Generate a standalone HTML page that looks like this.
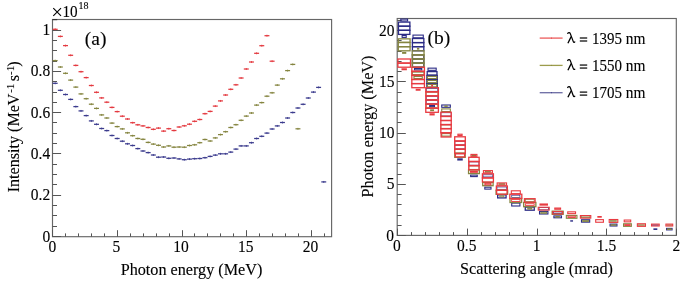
<!DOCTYPE html>
<html><head><meta charset="utf-8"><style>
html,body{margin:0;padding:0;background:#fff;}
svg{display:block;filter:blur(0.25px);}
text{font-family:"Liberation Serif", serif;fill:#000;stroke:#000;stroke-width:0.12px;}
</style></head><body>
<svg width="685" height="283" viewBox="0 0 685 283">
<rect width="685" height="283" fill="#fff"/>
<rect x="52.5" y="19.5" width="279.10" height="217.20" fill="none" stroke="#666" stroke-width="1.15"/>
<line x1="52.5" y1="19.6" x2="57.2" y2="19.6" stroke="#333" stroke-width="1.2"/>
<line x1="52.50" y1="236.7" x2="52.50" y2="230.2" stroke="#555" stroke-width="1"/>
<line x1="65.50" y1="236.7" x2="65.50" y2="233.39999999999998" stroke="#555" stroke-width="1"/>
<line x1="78.50" y1="236.7" x2="78.50" y2="233.39999999999998" stroke="#555" stroke-width="1"/>
<line x1="91.50" y1="236.7" x2="91.50" y2="233.39999999999998" stroke="#555" stroke-width="1"/>
<line x1="104.50" y1="236.7" x2="104.50" y2="233.39999999999998" stroke="#555" stroke-width="1"/>
<line x1="117.50" y1="236.7" x2="117.50" y2="230.2" stroke="#555" stroke-width="1"/>
<line x1="130.50" y1="236.7" x2="130.50" y2="233.39999999999998" stroke="#555" stroke-width="1"/>
<line x1="143.50" y1="236.7" x2="143.50" y2="233.39999999999998" stroke="#555" stroke-width="1"/>
<line x1="156.50" y1="236.7" x2="156.50" y2="233.39999999999998" stroke="#555" stroke-width="1"/>
<line x1="169.50" y1="236.7" x2="169.50" y2="233.39999999999998" stroke="#555" stroke-width="1"/>
<line x1="182.50" y1="236.7" x2="182.50" y2="230.2" stroke="#555" stroke-width="1"/>
<line x1="194.50" y1="236.7" x2="194.50" y2="233.39999999999998" stroke="#555" stroke-width="1"/>
<line x1="207.50" y1="236.7" x2="207.50" y2="233.39999999999998" stroke="#555" stroke-width="1"/>
<line x1="220.50" y1="236.7" x2="220.50" y2="233.39999999999998" stroke="#555" stroke-width="1"/>
<line x1="233.50" y1="236.7" x2="233.50" y2="233.39999999999998" stroke="#555" stroke-width="1"/>
<line x1="246.50" y1="236.7" x2="246.50" y2="230.2" stroke="#555" stroke-width="1"/>
<line x1="259.50" y1="236.7" x2="259.50" y2="233.39999999999998" stroke="#555" stroke-width="1"/>
<line x1="272.50" y1="236.7" x2="272.50" y2="233.39999999999998" stroke="#555" stroke-width="1"/>
<line x1="285.50" y1="236.7" x2="285.50" y2="233.39999999999998" stroke="#555" stroke-width="1"/>
<line x1="298.50" y1="236.7" x2="298.50" y2="233.39999999999998" stroke="#555" stroke-width="1"/>
<line x1="311.50" y1="236.7" x2="311.50" y2="230.2" stroke="#555" stroke-width="1"/>
<line x1="324.50" y1="236.7" x2="324.50" y2="233.39999999999998" stroke="#555" stroke-width="1"/>
<line x1="52.5" y1="236.50" x2="61.1" y2="236.50" stroke="#555" stroke-width="1"/>
<line x1="52.5" y1="226.50" x2="57.0" y2="226.50" stroke="#555" stroke-width="1"/>
<line x1="52.5" y1="215.50" x2="57.0" y2="215.50" stroke="#555" stroke-width="1"/>
<line x1="52.5" y1="205.50" x2="57.0" y2="205.50" stroke="#555" stroke-width="1"/>
<line x1="52.5" y1="195.50" x2="61.1" y2="195.50" stroke="#555" stroke-width="1"/>
<line x1="52.5" y1="184.50" x2="57.0" y2="184.50" stroke="#555" stroke-width="1"/>
<line x1="52.5" y1="174.50" x2="57.0" y2="174.50" stroke="#555" stroke-width="1"/>
<line x1="52.5" y1="164.50" x2="57.0" y2="164.50" stroke="#555" stroke-width="1"/>
<line x1="52.5" y1="153.50" x2="61.1" y2="153.50" stroke="#555" stroke-width="1"/>
<line x1="52.5" y1="143.50" x2="57.0" y2="143.50" stroke="#555" stroke-width="1"/>
<line x1="52.5" y1="133.50" x2="57.0" y2="133.50" stroke="#555" stroke-width="1"/>
<line x1="52.5" y1="122.50" x2="57.0" y2="122.50" stroke="#555" stroke-width="1"/>
<line x1="52.5" y1="112.50" x2="61.1" y2="112.50" stroke="#555" stroke-width="1"/>
<line x1="52.5" y1="102.50" x2="57.0" y2="102.50" stroke="#555" stroke-width="1"/>
<line x1="52.5" y1="92.50" x2="57.0" y2="92.50" stroke="#555" stroke-width="1"/>
<line x1="52.5" y1="81.50" x2="57.0" y2="81.50" stroke="#555" stroke-width="1"/>
<line x1="52.5" y1="71.50" x2="61.1" y2="71.50" stroke="#555" stroke-width="1"/>
<line x1="52.5" y1="61.50" x2="57.0" y2="61.50" stroke="#555" stroke-width="1"/>
<line x1="52.5" y1="50.50" x2="57.0" y2="50.50" stroke="#555" stroke-width="1"/>
<line x1="52.5" y1="40.50" x2="57.0" y2="40.50" stroke="#555" stroke-width="1"/>
<line x1="52.5" y1="30.50" x2="61.1" y2="30.50" stroke="#555" stroke-width="1"/>
<rect x="52.70" y="28.68" width="4.96" height="1.25" fill="#e43a40"/>
<rect x="54.73" y="28.35" width="0.9" height="1.9" fill="#e43a40"/>
<rect x="57.87" y="35.78" width="4.96" height="1.25" fill="#e43a40"/>
<rect x="59.90" y="35.45" width="0.9" height="1.9" fill="#e43a40"/>
<rect x="63.03" y="44.98" width="4.96" height="1.25" fill="#e43a40"/>
<rect x="65.06" y="44.65" width="0.9" height="1.9" fill="#e43a40"/>
<rect x="68.19" y="54.68" width="4.96" height="1.25" fill="#e43a40"/>
<rect x="70.23" y="54.35" width="0.9" height="1.9" fill="#e43a40"/>
<rect x="73.36" y="64.78" width="4.96" height="1.25" fill="#e43a40"/>
<rect x="75.39" y="64.45" width="0.9" height="1.9" fill="#e43a40"/>
<rect x="78.52" y="71.08" width="4.96" height="1.25" fill="#e43a40"/>
<rect x="80.56" y="70.75" width="0.9" height="1.9" fill="#e43a40"/>
<rect x="83.69" y="76.98" width="4.96" height="1.25" fill="#e43a40"/>
<rect x="85.72" y="76.65" width="0.9" height="1.9" fill="#e43a40"/>
<rect x="88.85" y="84.88" width="4.96" height="1.25" fill="#e43a40"/>
<rect x="90.89" y="84.55" width="0.9" height="1.9" fill="#e43a40"/>
<rect x="94.02" y="91.68" width="4.96" height="1.25" fill="#e43a40"/>
<rect x="96.05" y="91.35" width="0.9" height="1.9" fill="#e43a40"/>
<rect x="99.19" y="97.28" width="4.96" height="1.25" fill="#e43a40"/>
<rect x="101.22" y="96.95" width="0.9" height="1.9" fill="#e43a40"/>
<rect x="104.35" y="101.58" width="4.96" height="1.25" fill="#e43a40"/>
<rect x="106.38" y="101.25" width="0.9" height="1.9" fill="#e43a40"/>
<rect x="109.51" y="106.78" width="4.96" height="1.25" fill="#e43a40"/>
<rect x="111.55" y="106.45" width="0.9" height="1.9" fill="#e43a40"/>
<rect x="114.68" y="110.98" width="4.96" height="1.25" fill="#e43a40"/>
<rect x="116.71" y="110.65" width="0.9" height="1.9" fill="#e43a40"/>
<rect x="119.84" y="115.58" width="4.96" height="1.25" fill="#e43a40"/>
<rect x="121.88" y="115.25" width="0.9" height="1.9" fill="#e43a40"/>
<rect x="125.01" y="118.38" width="4.96" height="1.25" fill="#e43a40"/>
<rect x="127.04" y="118.05" width="0.9" height="1.9" fill="#e43a40"/>
<rect x="130.17" y="122.08" width="4.96" height="1.25" fill="#e43a40"/>
<rect x="132.21" y="121.75" width="0.9" height="1.9" fill="#e43a40"/>
<rect x="135.34" y="124.18" width="4.96" height="1.25" fill="#e43a40"/>
<rect x="137.37" y="123.85" width="0.9" height="1.9" fill="#e43a40"/>
<rect x="140.50" y="125.28" width="4.96" height="1.25" fill="#e43a40"/>
<rect x="142.54" y="124.95" width="0.9" height="1.9" fill="#e43a40"/>
<rect x="145.67" y="126.88" width="4.96" height="1.25" fill="#e43a40"/>
<rect x="147.70" y="126.55" width="0.9" height="1.9" fill="#e43a40"/>
<rect x="150.84" y="128.68" width="4.96" height="1.25" fill="#e43a40"/>
<rect x="152.87" y="128.35" width="0.9" height="1.9" fill="#e43a40"/>
<rect x="156.00" y="127.48" width="4.96" height="1.25" fill="#e43a40"/>
<rect x="158.03" y="127.15" width="0.9" height="1.9" fill="#e43a40"/>
<rect x="161.16" y="130.48" width="4.96" height="1.25" fill="#e43a40"/>
<rect x="163.20" y="130.15" width="0.9" height="1.9" fill="#e43a40"/>
<rect x="166.33" y="128.08" width="4.96" height="1.25" fill="#e43a40"/>
<rect x="168.36" y="127.75" width="0.9" height="1.9" fill="#e43a40"/>
<rect x="171.50" y="129.88" width="4.96" height="1.25" fill="#e43a40"/>
<rect x="173.53" y="129.55" width="0.9" height="1.9" fill="#e43a40"/>
<rect x="176.66" y="126.38" width="4.96" height="1.25" fill="#e43a40"/>
<rect x="178.69" y="126.05" width="0.9" height="1.9" fill="#e43a40"/>
<rect x="181.82" y="125.18" width="4.96" height="1.25" fill="#e43a40"/>
<rect x="183.86" y="124.85" width="0.9" height="1.9" fill="#e43a40"/>
<rect x="186.99" y="123.58" width="4.96" height="1.25" fill="#e43a40"/>
<rect x="189.02" y="123.25" width="0.9" height="1.9" fill="#e43a40"/>
<rect x="192.16" y="120.68" width="4.96" height="1.25" fill="#e43a40"/>
<rect x="194.19" y="120.35" width="0.9" height="1.9" fill="#e43a40"/>
<rect x="197.32" y="118.88" width="4.96" height="1.25" fill="#e43a40"/>
<rect x="199.35" y="118.55" width="0.9" height="1.9" fill="#e43a40"/>
<rect x="202.48" y="113.08" width="4.96" height="1.25" fill="#e43a40"/>
<rect x="204.52" y="112.75" width="0.9" height="1.9" fill="#e43a40"/>
<rect x="207.65" y="110.78" width="4.96" height="1.25" fill="#e43a40"/>
<rect x="209.68" y="110.45" width="0.9" height="1.9" fill="#e43a40"/>
<rect x="212.81" y="105.48" width="4.96" height="1.25" fill="#e43a40"/>
<rect x="214.85" y="105.15" width="0.9" height="1.9" fill="#e43a40"/>
<rect x="217.98" y="100.28" width="4.96" height="1.25" fill="#e43a40"/>
<rect x="220.01" y="99.95" width="0.9" height="1.9" fill="#e43a40"/>
<rect x="223.14" y="94.38" width="4.96" height="1.25" fill="#e43a40"/>
<rect x="225.18" y="94.05" width="0.9" height="1.9" fill="#e43a40"/>
<rect x="228.31" y="88.68" width="4.96" height="1.25" fill="#e43a40"/>
<rect x="230.34" y="88.35" width="0.9" height="1.9" fill="#e43a40"/>
<rect x="233.47" y="84.18" width="4.96" height="1.25" fill="#e43a40"/>
<rect x="235.51" y="83.85" width="0.9" height="1.9" fill="#e43a40"/>
<rect x="238.64" y="77.38" width="4.96" height="1.25" fill="#e43a40"/>
<rect x="240.67" y="77.05" width="0.9" height="1.9" fill="#e43a40"/>
<rect x="243.80" y="68.38" width="4.96" height="1.25" fill="#e43a40"/>
<rect x="245.84" y="68.05" width="0.9" height="1.9" fill="#e43a40"/>
<rect x="248.97" y="61.38" width="4.96" height="1.25" fill="#e43a40"/>
<rect x="251.00" y="61.05" width="0.9" height="1.9" fill="#e43a40"/>
<rect x="254.13" y="52.68" width="4.96" height="1.25" fill="#e43a40"/>
<rect x="256.17" y="52.35" width="0.9" height="1.9" fill="#e43a40"/>
<rect x="259.30" y="45.08" width="4.96" height="1.25" fill="#e43a40"/>
<rect x="261.33" y="44.75" width="0.9" height="1.9" fill="#e43a40"/>
<rect x="264.47" y="35.08" width="4.96" height="1.25" fill="#e43a40"/>
<rect x="266.50" y="34.75" width="0.9" height="1.9" fill="#e43a40"/>
<rect x="269.63" y="60.58" width="4.96" height="1.25" fill="#e43a40"/>
<rect x="271.66" y="60.25" width="0.9" height="1.9" fill="#e43a40"/>
<rect x="52.70" y="59.98" width="4.96" height="1.25" fill="#858540"/>
<rect x="54.73" y="59.65" width="0.9" height="1.9" fill="#858540"/>
<rect x="57.87" y="66.38" width="4.96" height="1.25" fill="#858540"/>
<rect x="59.90" y="66.05" width="0.9" height="1.9" fill="#858540"/>
<rect x="63.03" y="72.68" width="4.96" height="1.25" fill="#858540"/>
<rect x="65.06" y="72.35" width="0.9" height="1.9" fill="#858540"/>
<rect x="68.19" y="79.48" width="4.96" height="1.25" fill="#858540"/>
<rect x="70.23" y="79.15" width="0.9" height="1.9" fill="#858540"/>
<rect x="73.36" y="86.48" width="4.96" height="1.25" fill="#858540"/>
<rect x="75.39" y="86.15" width="0.9" height="1.9" fill="#858540"/>
<rect x="78.52" y="93.28" width="4.96" height="1.25" fill="#858540"/>
<rect x="80.56" y="92.95" width="0.9" height="1.9" fill="#858540"/>
<rect x="83.69" y="98.08" width="4.96" height="1.25" fill="#858540"/>
<rect x="85.72" y="97.75" width="0.9" height="1.9" fill="#858540"/>
<rect x="88.85" y="103.58" width="4.96" height="1.25" fill="#858540"/>
<rect x="90.89" y="103.25" width="0.9" height="1.9" fill="#858540"/>
<rect x="94.02" y="107.78" width="4.96" height="1.25" fill="#858540"/>
<rect x="96.05" y="107.45" width="0.9" height="1.9" fill="#858540"/>
<rect x="99.19" y="114.28" width="4.96" height="1.25" fill="#858540"/>
<rect x="101.22" y="113.95" width="0.9" height="1.9" fill="#858540"/>
<rect x="104.35" y="117.38" width="4.96" height="1.25" fill="#858540"/>
<rect x="106.38" y="117.05" width="0.9" height="1.9" fill="#858540"/>
<rect x="109.51" y="122.48" width="4.96" height="1.25" fill="#858540"/>
<rect x="111.55" y="122.15" width="0.9" height="1.9" fill="#858540"/>
<rect x="114.68" y="125.98" width="4.96" height="1.25" fill="#858540"/>
<rect x="116.71" y="125.65" width="0.9" height="1.9" fill="#858540"/>
<rect x="119.84" y="128.28" width="4.96" height="1.25" fill="#858540"/>
<rect x="121.88" y="127.95" width="0.9" height="1.9" fill="#858540"/>
<rect x="125.01" y="132.18" width="4.96" height="1.25" fill="#858540"/>
<rect x="127.04" y="131.85" width="0.9" height="1.9" fill="#858540"/>
<rect x="130.17" y="135.08" width="4.96" height="1.25" fill="#858540"/>
<rect x="132.21" y="134.75" width="0.9" height="1.9" fill="#858540"/>
<rect x="135.34" y="137.88" width="4.96" height="1.25" fill="#858540"/>
<rect x="137.37" y="137.55" width="0.9" height="1.9" fill="#858540"/>
<rect x="140.50" y="138.68" width="4.96" height="1.25" fill="#858540"/>
<rect x="142.54" y="138.35" width="0.9" height="1.9" fill="#858540"/>
<rect x="145.67" y="141.78" width="4.96" height="1.25" fill="#858540"/>
<rect x="147.70" y="141.45" width="0.9" height="1.9" fill="#858540"/>
<rect x="150.84" y="143.48" width="4.96" height="1.25" fill="#858540"/>
<rect x="152.87" y="143.15" width="0.9" height="1.9" fill="#858540"/>
<rect x="156.00" y="144.68" width="4.96" height="1.25" fill="#858540"/>
<rect x="158.03" y="144.35" width="0.9" height="1.9" fill="#858540"/>
<rect x="161.16" y="146.38" width="4.96" height="1.25" fill="#858540"/>
<rect x="163.20" y="146.05" width="0.9" height="1.9" fill="#858540"/>
<rect x="166.33" y="145.28" width="4.96" height="1.25" fill="#858540"/>
<rect x="168.36" y="144.95" width="0.9" height="1.9" fill="#858540"/>
<rect x="171.50" y="146.58" width="4.96" height="1.25" fill="#858540"/>
<rect x="173.53" y="146.25" width="0.9" height="1.9" fill="#858540"/>
<rect x="176.66" y="146.38" width="4.96" height="1.25" fill="#858540"/>
<rect x="178.69" y="146.05" width="0.9" height="1.9" fill="#858540"/>
<rect x="181.82" y="146.58" width="4.96" height="1.25" fill="#858540"/>
<rect x="183.86" y="146.25" width="0.9" height="1.9" fill="#858540"/>
<rect x="186.99" y="144.88" width="4.96" height="1.25" fill="#858540"/>
<rect x="189.02" y="144.55" width="0.9" height="1.9" fill="#858540"/>
<rect x="192.16" y="144.18" width="4.96" height="1.25" fill="#858540"/>
<rect x="194.19" y="143.85" width="0.9" height="1.9" fill="#858540"/>
<rect x="197.32" y="142.08" width="4.96" height="1.25" fill="#858540"/>
<rect x="199.35" y="141.75" width="0.9" height="1.9" fill="#858540"/>
<rect x="202.48" y="138.88" width="4.96" height="1.25" fill="#858540"/>
<rect x="204.52" y="138.55" width="0.9" height="1.9" fill="#858540"/>
<rect x="207.65" y="140.38" width="4.96" height="1.25" fill="#858540"/>
<rect x="209.68" y="140.05" width="0.9" height="1.9" fill="#858540"/>
<rect x="212.81" y="137.28" width="4.96" height="1.25" fill="#858540"/>
<rect x="214.85" y="136.95" width="0.9" height="1.9" fill="#858540"/>
<rect x="217.98" y="133.98" width="4.96" height="1.25" fill="#858540"/>
<rect x="220.01" y="133.65" width="0.9" height="1.9" fill="#858540"/>
<rect x="223.14" y="131.08" width="4.96" height="1.25" fill="#858540"/>
<rect x="225.18" y="130.75" width="0.9" height="1.9" fill="#858540"/>
<rect x="228.31" y="126.88" width="4.96" height="1.25" fill="#858540"/>
<rect x="230.34" y="126.55" width="0.9" height="1.9" fill="#858540"/>
<rect x="233.47" y="124.08" width="4.96" height="1.25" fill="#858540"/>
<rect x="235.51" y="123.75" width="0.9" height="1.9" fill="#858540"/>
<rect x="238.64" y="119.68" width="4.96" height="1.25" fill="#858540"/>
<rect x="240.67" y="119.35" width="0.9" height="1.9" fill="#858540"/>
<rect x="243.80" y="115.48" width="4.96" height="1.25" fill="#858540"/>
<rect x="245.84" y="115.15" width="0.9" height="1.9" fill="#858540"/>
<rect x="248.97" y="112.38" width="4.96" height="1.25" fill="#858540"/>
<rect x="251.00" y="112.05" width="0.9" height="1.9" fill="#858540"/>
<rect x="254.13" y="104.48" width="4.96" height="1.25" fill="#858540"/>
<rect x="256.17" y="104.15" width="0.9" height="1.9" fill="#858540"/>
<rect x="259.30" y="101.98" width="4.96" height="1.25" fill="#858540"/>
<rect x="261.33" y="101.65" width="0.9" height="1.9" fill="#858540"/>
<rect x="264.47" y="95.58" width="4.96" height="1.25" fill="#858540"/>
<rect x="266.50" y="95.25" width="0.9" height="1.9" fill="#858540"/>
<rect x="269.63" y="92.18" width="4.96" height="1.25" fill="#858540"/>
<rect x="271.66" y="91.85" width="0.9" height="1.9" fill="#858540"/>
<rect x="274.80" y="84.48" width="4.96" height="1.25" fill="#858540"/>
<rect x="276.83" y="84.15" width="0.9" height="1.9" fill="#858540"/>
<rect x="279.96" y="78.18" width="4.96" height="1.25" fill="#858540"/>
<rect x="281.99" y="77.85" width="0.9" height="1.9" fill="#858540"/>
<rect x="285.13" y="69.98" width="4.96" height="1.25" fill="#858540"/>
<rect x="287.16" y="69.65" width="0.9" height="1.9" fill="#858540"/>
<rect x="290.29" y="63.78" width="4.96" height="1.25" fill="#858540"/>
<rect x="292.32" y="63.45" width="0.9" height="1.9" fill="#858540"/>
<rect x="295.46" y="128.18" width="4.96" height="1.25" fill="#858540"/>
<rect x="297.49" y="127.85" width="0.9" height="1.9" fill="#858540"/>
<rect x="52.70" y="82.68" width="4.96" height="1.25" fill="#3c3c8e"/>
<rect x="54.73" y="82.35" width="0.9" height="1.9" fill="#3c3c8e"/>
<rect x="57.87" y="89.68" width="4.96" height="1.25" fill="#3c3c8e"/>
<rect x="59.90" y="89.35" width="0.9" height="1.9" fill="#3c3c8e"/>
<rect x="63.03" y="93.88" width="4.96" height="1.25" fill="#3c3c8e"/>
<rect x="65.06" y="93.55" width="0.9" height="1.9" fill="#3c3c8e"/>
<rect x="68.19" y="98.78" width="4.96" height="1.25" fill="#3c3c8e"/>
<rect x="70.23" y="98.45" width="0.9" height="1.9" fill="#3c3c8e"/>
<rect x="73.36" y="105.98" width="4.96" height="1.25" fill="#3c3c8e"/>
<rect x="75.39" y="105.65" width="0.9" height="1.9" fill="#3c3c8e"/>
<rect x="78.52" y="110.28" width="4.96" height="1.25" fill="#3c3c8e"/>
<rect x="80.56" y="109.95" width="0.9" height="1.9" fill="#3c3c8e"/>
<rect x="83.69" y="114.98" width="4.96" height="1.25" fill="#3c3c8e"/>
<rect x="85.72" y="114.65" width="0.9" height="1.9" fill="#3c3c8e"/>
<rect x="88.85" y="120.28" width="4.96" height="1.25" fill="#3c3c8e"/>
<rect x="90.89" y="119.95" width="0.9" height="1.9" fill="#3c3c8e"/>
<rect x="94.02" y="123.68" width="4.96" height="1.25" fill="#3c3c8e"/>
<rect x="96.05" y="123.35" width="0.9" height="1.9" fill="#3c3c8e"/>
<rect x="99.19" y="127.88" width="4.96" height="1.25" fill="#3c3c8e"/>
<rect x="101.22" y="127.55" width="0.9" height="1.9" fill="#3c3c8e"/>
<rect x="104.35" y="129.98" width="4.96" height="1.25" fill="#3c3c8e"/>
<rect x="106.38" y="129.65" width="0.9" height="1.9" fill="#3c3c8e"/>
<rect x="109.51" y="134.88" width="4.96" height="1.25" fill="#3c3c8e"/>
<rect x="111.55" y="134.55" width="0.9" height="1.9" fill="#3c3c8e"/>
<rect x="114.68" y="137.88" width="4.96" height="1.25" fill="#3c3c8e"/>
<rect x="116.71" y="137.55" width="0.9" height="1.9" fill="#3c3c8e"/>
<rect x="119.84" y="140.58" width="4.96" height="1.25" fill="#3c3c8e"/>
<rect x="121.88" y="140.25" width="0.9" height="1.9" fill="#3c3c8e"/>
<rect x="125.01" y="143.18" width="4.96" height="1.25" fill="#3c3c8e"/>
<rect x="127.04" y="142.85" width="0.9" height="1.9" fill="#3c3c8e"/>
<rect x="130.17" y="144.88" width="4.96" height="1.25" fill="#3c3c8e"/>
<rect x="132.21" y="144.55" width="0.9" height="1.9" fill="#3c3c8e"/>
<rect x="135.34" y="147.98" width="4.96" height="1.25" fill="#3c3c8e"/>
<rect x="137.37" y="147.65" width="0.9" height="1.9" fill="#3c3c8e"/>
<rect x="140.50" y="150.38" width="4.96" height="1.25" fill="#3c3c8e"/>
<rect x="142.54" y="150.05" width="0.9" height="1.9" fill="#3c3c8e"/>
<rect x="145.67" y="151.98" width="4.96" height="1.25" fill="#3c3c8e"/>
<rect x="147.70" y="151.65" width="0.9" height="1.9" fill="#3c3c8e"/>
<rect x="150.84" y="154.38" width="4.96" height="1.25" fill="#3c3c8e"/>
<rect x="152.87" y="154.05" width="0.9" height="1.9" fill="#3c3c8e"/>
<rect x="156.00" y="156.58" width="4.96" height="1.25" fill="#3c3c8e"/>
<rect x="158.03" y="156.25" width="0.9" height="1.9" fill="#3c3c8e"/>
<rect x="161.16" y="156.38" width="4.96" height="1.25" fill="#3c3c8e"/>
<rect x="163.20" y="156.05" width="0.9" height="1.9" fill="#3c3c8e"/>
<rect x="166.33" y="157.68" width="4.96" height="1.25" fill="#3c3c8e"/>
<rect x="168.36" y="157.35" width="0.9" height="1.9" fill="#3c3c8e"/>
<rect x="171.50" y="157.38" width="4.96" height="1.25" fill="#3c3c8e"/>
<rect x="173.53" y="157.05" width="0.9" height="1.9" fill="#3c3c8e"/>
<rect x="176.66" y="158.28" width="4.96" height="1.25" fill="#3c3c8e"/>
<rect x="178.69" y="157.95" width="0.9" height="1.9" fill="#3c3c8e"/>
<rect x="181.82" y="159.08" width="4.96" height="1.25" fill="#3c3c8e"/>
<rect x="183.86" y="158.75" width="0.9" height="1.9" fill="#3c3c8e"/>
<rect x="186.99" y="158.48" width="4.96" height="1.25" fill="#3c3c8e"/>
<rect x="189.02" y="158.15" width="0.9" height="1.9" fill="#3c3c8e"/>
<rect x="192.16" y="158.08" width="4.96" height="1.25" fill="#3c3c8e"/>
<rect x="194.19" y="157.75" width="0.9" height="1.9" fill="#3c3c8e"/>
<rect x="197.32" y="157.88" width="4.96" height="1.25" fill="#3c3c8e"/>
<rect x="199.35" y="157.55" width="0.9" height="1.9" fill="#3c3c8e"/>
<rect x="202.48" y="157.08" width="4.96" height="1.25" fill="#3c3c8e"/>
<rect x="204.52" y="156.75" width="0.9" height="1.9" fill="#3c3c8e"/>
<rect x="207.65" y="155.78" width="4.96" height="1.25" fill="#3c3c8e"/>
<rect x="209.68" y="155.45" width="0.9" height="1.9" fill="#3c3c8e"/>
<rect x="212.81" y="154.48" width="4.96" height="1.25" fill="#3c3c8e"/>
<rect x="214.85" y="154.15" width="0.9" height="1.9" fill="#3c3c8e"/>
<rect x="217.98" y="153.18" width="4.96" height="1.25" fill="#3c3c8e"/>
<rect x="220.01" y="152.85" width="0.9" height="1.9" fill="#3c3c8e"/>
<rect x="223.14" y="153.18" width="4.96" height="1.25" fill="#3c3c8e"/>
<rect x="225.18" y="152.85" width="0.9" height="1.9" fill="#3c3c8e"/>
<rect x="228.31" y="151.48" width="4.96" height="1.25" fill="#3c3c8e"/>
<rect x="230.34" y="151.15" width="0.9" height="1.9" fill="#3c3c8e"/>
<rect x="233.47" y="148.48" width="4.96" height="1.25" fill="#3c3c8e"/>
<rect x="235.51" y="148.15" width="0.9" height="1.9" fill="#3c3c8e"/>
<rect x="238.64" y="145.28" width="4.96" height="1.25" fill="#3c3c8e"/>
<rect x="240.67" y="144.95" width="0.9" height="1.9" fill="#3c3c8e"/>
<rect x="243.80" y="145.28" width="4.96" height="1.25" fill="#3c3c8e"/>
<rect x="245.84" y="144.95" width="0.9" height="1.9" fill="#3c3c8e"/>
<rect x="248.97" y="142.08" width="4.96" height="1.25" fill="#3c3c8e"/>
<rect x="251.00" y="141.75" width="0.9" height="1.9" fill="#3c3c8e"/>
<rect x="254.13" y="137.88" width="4.96" height="1.25" fill="#3c3c8e"/>
<rect x="256.17" y="137.55" width="0.9" height="1.9" fill="#3c3c8e"/>
<rect x="259.30" y="135.68" width="4.96" height="1.25" fill="#3c3c8e"/>
<rect x="261.33" y="135.35" width="0.9" height="1.9" fill="#3c3c8e"/>
<rect x="264.47" y="132.48" width="4.96" height="1.25" fill="#3c3c8e"/>
<rect x="266.50" y="132.15" width="0.9" height="1.9" fill="#3c3c8e"/>
<rect x="269.63" y="128.38" width="4.96" height="1.25" fill="#3c3c8e"/>
<rect x="271.66" y="128.05" width="0.9" height="1.9" fill="#3c3c8e"/>
<rect x="274.80" y="125.28" width="4.96" height="1.25" fill="#3c3c8e"/>
<rect x="276.83" y="124.95" width="0.9" height="1.9" fill="#3c3c8e"/>
<rect x="279.96" y="121.88" width="4.96" height="1.25" fill="#3c3c8e"/>
<rect x="281.99" y="121.55" width="0.9" height="1.9" fill="#3c3c8e"/>
<rect x="285.13" y="117.38" width="4.96" height="1.25" fill="#3c3c8e"/>
<rect x="287.16" y="117.05" width="0.9" height="1.9" fill="#3c3c8e"/>
<rect x="290.29" y="111.88" width="4.96" height="1.25" fill="#3c3c8e"/>
<rect x="292.32" y="111.55" width="0.9" height="1.9" fill="#3c3c8e"/>
<rect x="295.46" y="107.38" width="4.96" height="1.25" fill="#3c3c8e"/>
<rect x="297.49" y="107.05" width="0.9" height="1.9" fill="#3c3c8e"/>
<rect x="300.62" y="103.68" width="4.96" height="1.25" fill="#3c3c8e"/>
<rect x="302.65" y="103.35" width="0.9" height="1.9" fill="#3c3c8e"/>
<rect x="305.79" y="97.38" width="4.96" height="1.25" fill="#3c3c8e"/>
<rect x="307.82" y="97.05" width="0.9" height="1.9" fill="#3c3c8e"/>
<rect x="310.95" y="91.48" width="4.96" height="1.25" fill="#3c3c8e"/>
<rect x="312.98" y="91.15" width="0.9" height="1.9" fill="#3c3c8e"/>
<rect x="316.12" y="86.78" width="4.96" height="1.25" fill="#3c3c8e"/>
<rect x="318.15" y="86.45" width="0.9" height="1.9" fill="#3c3c8e"/>
<rect x="321.28" y="181.28" width="4.96" height="1.25" fill="#3c3c8e"/>
<rect x="323.31" y="180.95" width="0.9" height="1.9" fill="#3c3c8e"/>
<rect x="397.2" y="18.5" width="279.10" height="216.90" fill="none" stroke="#666" stroke-width="1.15"/>
<line x1="397.50" y1="235.4" x2="397.50" y2="228.60" stroke="#555" stroke-width="1"/>
<line x1="411.50" y1="235.4" x2="411.50" y2="232.10" stroke="#555" stroke-width="1"/>
<line x1="425.50" y1="235.4" x2="425.50" y2="232.10" stroke="#555" stroke-width="1"/>
<line x1="439.50" y1="235.4" x2="439.50" y2="232.10" stroke="#555" stroke-width="1"/>
<line x1="453.50" y1="235.4" x2="453.50" y2="232.10" stroke="#555" stroke-width="1"/>
<line x1="467.50" y1="235.4" x2="467.50" y2="228.60" stroke="#555" stroke-width="1"/>
<line x1="481.50" y1="235.4" x2="481.50" y2="232.10" stroke="#555" stroke-width="1"/>
<line x1="495.50" y1="235.4" x2="495.50" y2="232.10" stroke="#555" stroke-width="1"/>
<line x1="509.50" y1="235.4" x2="509.50" y2="232.10" stroke="#555" stroke-width="1"/>
<line x1="523.50" y1="235.4" x2="523.50" y2="232.10" stroke="#555" stroke-width="1"/>
<line x1="537.50" y1="235.4" x2="537.50" y2="228.60" stroke="#555" stroke-width="1"/>
<line x1="550.50" y1="235.4" x2="550.50" y2="232.10" stroke="#555" stroke-width="1"/>
<line x1="564.50" y1="235.4" x2="564.50" y2="232.10" stroke="#555" stroke-width="1"/>
<line x1="578.50" y1="235.4" x2="578.50" y2="232.10" stroke="#555" stroke-width="1"/>
<line x1="592.50" y1="235.4" x2="592.50" y2="232.10" stroke="#555" stroke-width="1"/>
<line x1="606.50" y1="235.4" x2="606.50" y2="228.60" stroke="#555" stroke-width="1"/>
<line x1="620.50" y1="235.4" x2="620.50" y2="232.10" stroke="#555" stroke-width="1"/>
<line x1="634.50" y1="235.4" x2="634.50" y2="232.10" stroke="#555" stroke-width="1"/>
<line x1="648.50" y1="235.4" x2="648.50" y2="232.10" stroke="#555" stroke-width="1"/>
<line x1="662.50" y1="235.4" x2="662.50" y2="232.10" stroke="#555" stroke-width="1"/>
<line x1="676.50" y1="235.4" x2="676.50" y2="228.60" stroke="#555" stroke-width="1"/>
<line x1="397.2" y1="235.50" x2="405.8" y2="235.50" stroke="#555" stroke-width="1"/>
<line x1="397.2" y1="225.50" x2="401.59999999999997" y2="225.50" stroke="#555" stroke-width="1"/>
<line x1="397.2" y1="215.50" x2="401.59999999999997" y2="215.50" stroke="#555" stroke-width="1"/>
<line x1="397.2" y1="204.50" x2="401.59999999999997" y2="204.50" stroke="#555" stroke-width="1"/>
<line x1="397.2" y1="194.50" x2="401.59999999999997" y2="194.50" stroke="#555" stroke-width="1"/>
<line x1="397.2" y1="184.50" x2="405.8" y2="184.50" stroke="#555" stroke-width="1"/>
<line x1="397.2" y1="174.50" x2="401.59999999999997" y2="174.50" stroke="#555" stroke-width="1"/>
<line x1="397.2" y1="163.50" x2="401.59999999999997" y2="163.50" stroke="#555" stroke-width="1"/>
<line x1="397.2" y1="153.50" x2="401.59999999999997" y2="153.50" stroke="#555" stroke-width="1"/>
<line x1="397.2" y1="143.50" x2="401.59999999999997" y2="143.50" stroke="#555" stroke-width="1"/>
<line x1="397.2" y1="133.50" x2="405.8" y2="133.50" stroke="#555" stroke-width="1"/>
<line x1="397.2" y1="122.50" x2="401.59999999999997" y2="122.50" stroke="#555" stroke-width="1"/>
<line x1="397.2" y1="112.50" x2="401.59999999999997" y2="112.50" stroke="#555" stroke-width="1"/>
<line x1="397.2" y1="102.50" x2="401.59999999999997" y2="102.50" stroke="#555" stroke-width="1"/>
<line x1="397.2" y1="92.50" x2="401.59999999999997" y2="92.50" stroke="#555" stroke-width="1"/>
<line x1="397.2" y1="81.50" x2="405.8" y2="81.50" stroke="#555" stroke-width="1"/>
<line x1="397.2" y1="71.50" x2="401.59999999999997" y2="71.50" stroke="#555" stroke-width="1"/>
<line x1="397.2" y1="61.50" x2="401.59999999999997" y2="61.50" stroke="#555" stroke-width="1"/>
<line x1="397.2" y1="51.50" x2="401.59999999999997" y2="51.50" stroke="#555" stroke-width="1"/>
<line x1="397.2" y1="40.50" x2="401.59999999999997" y2="40.50" stroke="#555" stroke-width="1"/>
<line x1="397.2" y1="30.50" x2="405.8" y2="30.50" stroke="#555" stroke-width="1"/>
<line x1="397.2" y1="20.50" x2="401.59999999999997" y2="20.50" stroke="#555" stroke-width="1"/>
<rect x="400.78" y="19.10" width="6.80" height="1.90" fill="none" stroke="#2b2b85" stroke-width="1.1"/>
<rect x="398.48" y="22.10" width="11.40" height="4.10" fill="none" stroke="#2b2b85" stroke-width="1.3"/>
<rect x="398.48" y="26.20" width="11.40" height="4.10" fill="none" stroke="#2b2b85" stroke-width="1.3"/>
<rect x="398.48" y="30.30" width="11.40" height="4.10" fill="none" stroke="#2b2b85" stroke-width="1.3"/>
<rect x="402.13" y="35.50" width="4.10" height="1.90" fill="none" stroke="#2b2b85" stroke-width="1.1"/>
<rect x="412.98" y="35.10" width="10.30" height="2.70" fill="none" stroke="#2b2b85" stroke-width="1.1"/>
<rect x="412.43" y="38.50" width="11.40" height="4.10" fill="none" stroke="#2b2b85" stroke-width="1.3"/>
<rect x="412.43" y="42.60" width="11.40" height="4.10" fill="none" stroke="#2b2b85" stroke-width="1.3"/>
<rect x="412.43" y="46.70" width="11.40" height="4.10" fill="none" stroke="#2b2b85" stroke-width="1.3"/>
<rect x="412.48" y="55.00" width="11.30" height="3.90" fill="none" stroke="#2b2b85" stroke-width="1.3"/>
<rect x="412.48" y="59.10" width="11.30" height="3.90" fill="none" stroke="#2b2b85" stroke-width="1.3"/>
<rect x="412.48" y="63.20" width="11.30" height="3.90" fill="none" stroke="#2b2b85" stroke-width="1.3"/>
<rect x="414.48" y="68.55" width="7.30" height="1.40" fill="none" stroke="#2b2b85" stroke-width="1.1"/>
<rect x="427.99" y="68.15" width="8.20" height="2.20" fill="none" stroke="#2b2b85" stroke-width="1.1"/>
<rect x="427.19" y="71.60" width="9.80" height="3.50" fill="none" stroke="#2b2b85" stroke-width="1.3"/>
<rect x="426.89" y="75.45" width="10.40" height="4.00" fill="none" stroke="#2b2b85" stroke-width="1.3"/>
<rect x="426.89" y="79.55" width="10.40" height="4.00" fill="none" stroke="#2b2b85" stroke-width="1.3"/>
<rect x="426.89" y="83.65" width="10.40" height="4.00" fill="none" stroke="#2b2b85" stroke-width="1.3"/>
<rect x="426.59" y="88.30" width="11.00" height="2.90" fill="none" stroke="#2b2b85" stroke-width="0.6"/>
<rect x="426.59" y="96.50" width="11.00" height="2.90" fill="none" stroke="#2b2b85" stroke-width="0.6"/>
<rect x="426.59" y="100.60" width="11.00" height="2.90" fill="none" stroke="#2b2b85" stroke-width="0.6"/>
<rect x="429.69" y="105.55" width="4.80" height="1.20" fill="none" stroke="#2b2b85" stroke-width="1.1"/>
<rect x="441.74" y="105.00" width="8.60" height="2.30" fill="none" stroke="#2b2b85" stroke-width="1.1"/>
<rect x="440.94" y="112.80" width="10.20" height="3.10" fill="none" stroke="#2b2b85" stroke-width="0.6"/>
<rect x="455.00" y="141.50" width="10.00" height="3.10" fill="none" stroke="#2b2b85" stroke-width="0.5"/>
<rect x="455.00" y="145.60" width="10.00" height="3.10" fill="none" stroke="#2b2b85" stroke-width="0.5"/>
<rect x="457.80" y="158.90" width="4.40" height="1.10" fill="none" stroke="#2b2b85" stroke-width="1.1"/>
<rect x="469.05" y="162.00" width="9.80" height="3.10" fill="none" stroke="#2b2b85" stroke-width="0.5"/>
<rect x="470.65" y="175.10" width="6.60" height="1.50" fill="none" stroke="#2b2b85" stroke-width="1.1"/>
<rect x="483.01" y="174.80" width="9.80" height="2.10" fill="none" stroke="#2b2b85" stroke-width="0.7"/>
<rect x="484.81" y="187.20" width="6.20" height="1.90" fill="none" stroke="#2b2b85" stroke-width="1.1"/>
<rect x="496.96" y="187.00" width="9.80" height="2.30" fill="none" stroke="#2b2b85" stroke-width="0.7"/>
<rect x="497.66" y="194.80" width="8.40" height="3.10" fill="none" stroke="#2b2b85" stroke-width="1.3"/>
<rect x="511.72" y="195.20" width="8.20" height="2.30" fill="none" stroke="#2b2b85" stroke-width="0.7"/>
<rect x="511.72" y="203.10" width="8.20" height="2.90" fill="none" stroke="#2b2b85" stroke-width="1.1"/>
<rect x="525.27" y="207.10" width="9.00" height="3.10" fill="none" stroke="#2b2b85" stroke-width="1.3"/>
<rect x="539.03" y="207.40" width="9.40" height="2.50" fill="none" stroke="#2b2b85" stroke-width="0.8"/>
<rect x="539.53" y="211.50" width="8.40" height="2.50" fill="none" stroke="#2b2b85" stroke-width="1.1"/>
<rect x="553.28" y="211.90" width="8.80" height="1.70" fill="none" stroke="#2b2b85" stroke-width="0.8"/>
<rect x="553.88" y="215.90" width="7.60" height="1.90" fill="none" stroke="#2b2b85" stroke-width="1.1"/>
<rect x="570.79" y="220.80" width="1.70" height="0.30" fill="none" stroke="#2b2b85" stroke-width="1.1"/>
<rect x="581.49" y="219.75" width="8.20" height="2.40" fill="none" stroke="#2b2b85" stroke-width="1.1"/>
<rect x="610.05" y="224.10" width="6.90" height="1.90" fill="none" stroke="#2b2b85" stroke-width="1.1"/>
<rect x="652.47" y="224.90" width="5.80" height="0.30" fill="none" stroke="#2b2b85" stroke-width="0.8"/>
<rect x="653.97" y="228.90" width="2.80" height="0.50" fill="none" stroke="#2b2b85" stroke-width="1.1"/>
<rect x="666.57" y="228.40" width="5.50" height="1.50" fill="none" stroke="#2b2b85" stroke-width="1.1"/>
<rect x="398.28" y="38.85" width="11.80" height="3.40" fill="none" stroke="#858540" stroke-width="1.3"/>
<rect x="398.28" y="42.60" width="11.80" height="4.10" fill="none" stroke="#858540" stroke-width="1.3"/>
<rect x="398.28" y="46.70" width="11.80" height="4.10" fill="none" stroke="#858540" stroke-width="1.3"/>
<rect x="402.63" y="52.40" width="3.10" height="0.90" fill="none" stroke="#858540" stroke-width="1.1"/>
<rect x="417.48" y="48.40" width="1.30" height="0.70" fill="none" stroke="#858540" stroke-width="1.1"/>
<rect x="412.23" y="50.80" width="11.80" height="4.10" fill="none" stroke="#858540" stroke-width="1.3"/>
<rect x="412.23" y="54.90" width="11.80" height="4.10" fill="none" stroke="#858540" stroke-width="1.3"/>
<rect x="412.23" y="59.00" width="11.80" height="4.10" fill="none" stroke="#858540" stroke-width="1.3"/>
<rect x="412.23" y="63.10" width="11.80" height="4.10" fill="none" stroke="#858540" stroke-width="1.3"/>
<rect x="412.23" y="72.10" width="11.80" height="2.50" fill="none" stroke="#858540" stroke-width="1.1"/>
<rect x="413.98" y="76.40" width="8.30" height="2.10" fill="none" stroke="#858540" stroke-width="1.1"/>
<rect x="427.39" y="76.40" width="9.40" height="2.10" fill="none" stroke="#858540" stroke-width="1.1"/>
<rect x="427.39" y="80.50" width="9.40" height="2.10" fill="none" stroke="#858540" stroke-width="1.1"/>
<rect x="427.39" y="84.50" width="9.40" height="2.30" fill="none" stroke="#858540" stroke-width="1.1"/>
<rect x="426.59" y="92.40" width="11.00" height="2.90" fill="none" stroke="#858540" stroke-width="0.6"/>
<rect x="426.59" y="104.70" width="11.00" height="2.90" fill="none" stroke="#858540" stroke-width="0.6"/>
<rect x="430.69" y="109.90" width="2.80" height="0.70" fill="none" stroke="#858540" stroke-width="1.1"/>
<rect x="444.89" y="105.95" width="2.30" height="0.40" fill="none" stroke="#858540" stroke-width="1.1"/>
<rect x="441.74" y="108.90" width="8.60" height="2.70" fill="none" stroke="#858540" stroke-width="1.1"/>
<rect x="440.94" y="125.10" width="10.20" height="3.10" fill="none" stroke="#858540" stroke-width="0.5"/>
<rect x="441.74" y="133.60" width="8.60" height="2.50" fill="none" stroke="#858540" stroke-width="1.1"/>
<rect x="455.00" y="149.70" width="10.00" height="3.10" fill="none" stroke="#858540" stroke-width="0.5"/>
<rect x="454.80" y="153.35" width="10.40" height="4.00" fill="none" stroke="#858540" stroke-width="1.3"/>
<rect x="472.05" y="154.90" width="3.80" height="0.90" fill="none" stroke="#858540" stroke-width="1.1"/>
<rect x="469.05" y="166.10" width="9.80" height="3.10" fill="none" stroke="#858540" stroke-width="0.5"/>
<rect x="468.55" y="169.90" width="10.80" height="3.70" fill="none" stroke="#858540" stroke-width="1.3"/>
<rect x="485.26" y="171.30" width="5.30" height="0.90" fill="none" stroke="#858540" stroke-width="0.8"/>
<rect x="482.71" y="182.40" width="10.40" height="3.30" fill="none" stroke="#858540" stroke-width="1.3"/>
<rect x="498.96" y="183.60" width="5.80" height="0.90" fill="none" stroke="#858540" stroke-width="0.8"/>
<rect x="496.06" y="190.20" width="11.60" height="4.10" fill="none" stroke="#858540" stroke-width="1.3"/>
<rect x="499.76" y="195.80" width="4.20" height="1.10" fill="none" stroke="#858540" stroke-width="0.8"/>
<rect x="510.02" y="198.40" width="11.60" height="4.10" fill="none" stroke="#858540" stroke-width="1.3"/>
<rect x="525.37" y="199.40" width="8.80" height="2.10" fill="none" stroke="#858540" stroke-width="0.7"/>
<rect x="523.67" y="202.40" width="12.20" height="4.30" fill="none" stroke="#858540" stroke-width="1.3"/>
<rect x="527.67" y="208.20" width="4.20" height="0.90" fill="none" stroke="#858540" stroke-width="0.8"/>
<rect x="540.83" y="212.20" width="5.80" height="1.10" fill="none" stroke="#858540" stroke-width="0.9"/>
<rect x="552.18" y="211.20" width="11.00" height="3.10" fill="none" stroke="#858540" stroke-width="1.3"/>
<rect x="555.78" y="216.50" width="3.80" height="0.70" fill="none" stroke="#858540" stroke-width="0.8"/>
<rect x="566.34" y="215.40" width="10.60" height="2.90" fill="none" stroke="#858540" stroke-width="1.1"/>
<rect x="581.19" y="216.10" width="8.80" height="1.50" fill="none" stroke="#858540" stroke-width="0.8"/>
<rect x="582.69" y="220.40" width="5.80" height="1.10" fill="none" stroke="#858540" stroke-width="0.9"/>
<rect x="610.60" y="220.60" width="5.80" height="0.70" fill="none" stroke="#858540" stroke-width="0.8"/>
<rect x="611.10" y="224.85" width="4.80" height="0.40" fill="none" stroke="#858540" stroke-width="1.1"/>
<rect x="623.56" y="223.75" width="7.80" height="2.60" fill="none" stroke="#858540" stroke-width="1.1"/>
<rect x="638.41" y="224.80" width="6.00" height="0.50" fill="none" stroke="#858540" stroke-width="0.8"/>
<rect x="666.92" y="224.90" width="4.80" height="0.30" fill="none" stroke="#858540" stroke-width="0.8"/>
<rect x="667.42" y="228.95" width="3.80" height="0.40" fill="none" stroke="#858540" stroke-width="1.1"/>
<rect x="397.88" y="59.00" width="12.60" height="4.10" fill="none" stroke="#e83a40" stroke-width="1.3"/>
<rect x="397.88" y="63.10" width="12.60" height="4.10" fill="none" stroke="#e83a40" stroke-width="1.3"/>
<rect x="402.03" y="68.80" width="4.30" height="0.90" fill="none" stroke="#e83a40" stroke-width="1.1"/>
<rect x="411.83" y="83.60" width="12.60" height="4.10" fill="none" stroke="#e83a40" stroke-width="1.3"/>
<rect x="411.83" y="79.50" width="12.60" height="4.10" fill="none" stroke="#e83a40" stroke-width="1.3"/>
<rect x="411.83" y="75.40" width="12.60" height="4.10" fill="none" stroke="#e83a40" stroke-width="1.3"/>
<rect x="411.83" y="71.30" width="12.60" height="4.10" fill="none" stroke="#e83a40" stroke-width="1.3"/>
<rect x="411.83" y="67.20" width="12.60" height="4.10" fill="none" stroke="#e83a40" stroke-width="1.3"/>
<rect x="416.23" y="89.30" width="3.80" height="0.90" fill="none" stroke="#e83a40" stroke-width="1.1"/>
<rect x="431.69" y="85.30" width="0.80" height="0.70" fill="none" stroke="#e83a40" stroke-width="1.1"/>
<rect x="425.79" y="108.20" width="12.60" height="4.10" fill="none" stroke="#e83a40" stroke-width="1.3"/>
<rect x="425.79" y="104.10" width="12.60" height="4.10" fill="none" stroke="#e83a40" stroke-width="1.3"/>
<rect x="425.79" y="100.00" width="12.60" height="4.10" fill="none" stroke="#e83a40" stroke-width="1.3"/>
<rect x="425.79" y="95.90" width="12.60" height="4.10" fill="none" stroke="#e83a40" stroke-width="1.3"/>
<rect x="425.79" y="91.80" width="12.60" height="4.10" fill="none" stroke="#e83a40" stroke-width="1.3"/>
<rect x="425.79" y="87.70" width="12.60" height="4.10" fill="none" stroke="#e83a40" stroke-width="1.3"/>
<rect x="430.04" y="113.80" width="4.10" height="1.10" fill="none" stroke="#e83a40" stroke-width="1.1"/>
<rect x="440.84" y="128.60" width="10.40" height="4.30" fill="none" stroke="#e83a40" stroke-width="1.3"/>
<rect x="440.84" y="124.50" width="10.40" height="4.30" fill="none" stroke="#e83a40" stroke-width="1.3"/>
<rect x="440.84" y="120.40" width="10.40" height="4.30" fill="none" stroke="#e83a40" stroke-width="1.3"/>
<rect x="440.84" y="116.30" width="10.40" height="4.30" fill="none" stroke="#e83a40" stroke-width="1.3"/>
<rect x="440.84" y="112.20" width="10.40" height="4.30" fill="none" stroke="#e83a40" stroke-width="1.3"/>
<rect x="441.14" y="132.70" width="9.80" height="4.30" fill="none" stroke="#e83a40" stroke-width="1.3"/>
<rect x="457.90" y="134.20" width="4.20" height="1.30" fill="none" stroke="#e83a40" stroke-width="1.1"/>
<rect x="454.70" y="149.10" width="10.60" height="4.30" fill="none" stroke="#e83a40" stroke-width="1.3"/>
<rect x="454.70" y="145.00" width="10.60" height="4.30" fill="none" stroke="#e83a40" stroke-width="1.3"/>
<rect x="454.70" y="140.90" width="10.60" height="4.30" fill="none" stroke="#e83a40" stroke-width="1.3"/>
<rect x="454.70" y="136.80" width="10.60" height="4.30" fill="none" stroke="#e83a40" stroke-width="1.3"/>
<rect x="455.40" y="153.80" width="9.20" height="3.10" fill="none" stroke="#e83a40" stroke-width="1.3"/>
<rect x="470.95" y="154.40" width="6.00" height="1.90" fill="none" stroke="#e83a40" stroke-width="1.1"/>
<rect x="468.75" y="165.50" width="10.40" height="4.30" fill="none" stroke="#e83a40" stroke-width="1.3"/>
<rect x="468.75" y="161.40" width="10.40" height="4.30" fill="none" stroke="#e83a40" stroke-width="1.3"/>
<rect x="468.75" y="157.30" width="10.40" height="4.30" fill="none" stroke="#e83a40" stroke-width="1.3"/>
<rect x="470.55" y="171.20" width="6.80" height="1.10" fill="none" stroke="#e83a40" stroke-width="1.1"/>
<rect x="483.41" y="170.60" width="9.00" height="2.30" fill="none" stroke="#e83a40" stroke-width="1.1"/>
<rect x="482.41" y="173.80" width="11.00" height="4.10" fill="none" stroke="#e83a40" stroke-width="1.3"/>
<rect x="482.41" y="177.90" width="11.00" height="4.10" fill="none" stroke="#e83a40" stroke-width="1.3"/>
<rect x="484.91" y="183.30" width="6.00" height="1.50" fill="none" stroke="#e83a40" stroke-width="1.1"/>
<rect x="497.16" y="182.90" width="9.40" height="2.30" fill="none" stroke="#e83a40" stroke-width="1.1"/>
<rect x="496.36" y="186.00" width="11.00" height="4.30" fill="none" stroke="#e83a40" stroke-width="1.3"/>
<rect x="496.66" y="190.30" width="10.40" height="3.90" fill="none" stroke="#e83a40" stroke-width="1.3"/>
<rect x="511.32" y="190.80" width="9.00" height="2.90" fill="none" stroke="#e83a40" stroke-width="1.1"/>
<rect x="509.82" y="194.20" width="12.00" height="4.30" fill="none" stroke="#e83a40" stroke-width="1.3"/>
<rect x="511.62" y="199.40" width="8.40" height="2.10" fill="none" stroke="#e83a40" stroke-width="0.9"/>
<rect x="524.47" y="198.70" width="10.60" height="3.50" fill="none" stroke="#e83a40" stroke-width="1.3"/>
<rect x="525.37" y="203.70" width="8.80" height="1.70" fill="none" stroke="#e83a40" stroke-width="0.9"/>
<rect x="540.03" y="204.00" width="7.40" height="1.10" fill="none" stroke="#e83a40" stroke-width="1.1"/>
<rect x="538.23" y="207.25" width="11.00" height="2.80" fill="none" stroke="#e83a40" stroke-width="1.1"/>
<rect x="554.78" y="208.05" width="5.80" height="1.20" fill="none" stroke="#e83a40" stroke-width="1.1"/>
<rect x="552.68" y="211.50" width="10.00" height="2.50" fill="none" stroke="#e83a40" stroke-width="1.1"/>
<rect x="567.74" y="211.85" width="7.80" height="1.80" fill="none" stroke="#e83a40" stroke-width="1.1"/>
<rect x="567.94" y="216.20" width="7.40" height="1.30" fill="none" stroke="#e83a40" stroke-width="0.9"/>
<rect x="580.39" y="215.55" width="10.40" height="2.60" fill="none" stroke="#e83a40" stroke-width="1.1"/>
<rect x="597.90" y="216.55" width="3.30" height="0.60" fill="none" stroke="#e83a40" stroke-width="1.1"/>
<rect x="595.70" y="219.65" width="7.70" height="2.60" fill="none" stroke="#e83a40" stroke-width="1.1"/>
<rect x="609.20" y="219.50" width="8.60" height="2.90" fill="none" stroke="#e83a40" stroke-width="1.1"/>
<rect x="624.21" y="220.05" width="6.50" height="1.80" fill="none" stroke="#e83a40" stroke-width="1.1"/>
<rect x="624.81" y="224.70" width="5.30" height="0.70" fill="none" stroke="#e83a40" stroke-width="1.1"/>
<rect x="637.36" y="223.75" width="8.10" height="2.60" fill="none" stroke="#e83a40" stroke-width="1.1"/>
<rect x="651.52" y="224.10" width="7.70" height="1.90" fill="none" stroke="#e83a40" stroke-width="1.1"/>
<rect x="665.92" y="224.10" width="6.80" height="1.90" fill="none" stroke="#e83a40" stroke-width="1.1"/>
<line x1="539.7" y1="38.10" x2="562.6" y2="38.10" stroke="#ec5c5c" stroke-width="1.3"/>
<rect x="551" y="37.60" width="1" height="1" fill="#e3262d" opacity="0.7"/>
<line x1="539.7" y1="65.40" x2="562.6" y2="65.40" stroke="#9c9c4c" stroke-width="1.3"/>
<rect x="551" y="64.90" width="1" height="1" fill="#858540" opacity="0.7"/>
<line x1="539.7" y1="92.70" x2="562.6" y2="92.70" stroke="#6c6ca4" stroke-width="1.3"/>
<rect x="551" y="92.20" width="1" height="1" fill="#2b2b85" opacity="0.7"/>
<g style="will-change:transform">
<text transform="translate(52.40,251.5) scale(1,1.1)" font-size="15.5" text-anchor="middle" >0</text>
<text transform="translate(116.35,251.5) scale(1,1.1)" font-size="15.5" text-anchor="middle" >5</text>
<text transform="translate(181.10,251.5) scale(1,1.1)" font-size="15.5" text-anchor="middle" >10</text>
<text transform="translate(245.85,251.5) scale(1,1.1)" font-size="15.5" text-anchor="middle" >15</text>
<text transform="translate(310.60,251.5) scale(1,1.1)" font-size="15.5" text-anchor="middle" >20</text>
<text transform="translate(50.2,241.60) scale(1,1.1)" font-size="15.5" text-anchor="end" >0</text>
<text transform="translate(50.2,200.28) scale(1,1.1)" font-size="15.5" text-anchor="end" >0.2</text>
<text transform="translate(50.2,158.96) scale(1,1.1)" font-size="15.5" text-anchor="end" >0.4</text>
<text transform="translate(50.2,117.64) scale(1,1.1)" font-size="15.5" text-anchor="end" >0.6</text>
<text transform="translate(50.2,76.32) scale(1,1.1)" font-size="15.5" text-anchor="end" >0.8</text>
<text transform="translate(50.2,35.00) scale(1,1.1)" font-size="15.5" text-anchor="end" >1</text>
<text transform="translate(396.90,250.5) scale(1,1.1)" font-size="15.5" text-anchor="middle" >0</text>
<text transform="translate(466.75,250.5) scale(1,1.1)" font-size="15.5" text-anchor="middle" >0.5</text>
<text transform="translate(536.60,250.5) scale(1,1.1)" font-size="15.5" text-anchor="middle" >1</text>
<text transform="translate(606.45,250.5) scale(1,1.1)" font-size="15.5" text-anchor="middle" >1.5</text>
<text transform="translate(676.30,250.5) scale(1,1.1)" font-size="15.5" text-anchor="middle" >2</text>
<text transform="translate(394.0,240.60) scale(1,1.1)" font-size="15.5" text-anchor="end" >0</text>
<text transform="translate(394.5,189.40) scale(1,1.1)" font-size="15.5" text-anchor="end" >5</text>
<text transform="translate(394.5,138.20) scale(1,1.1)" font-size="15.5" text-anchor="end" >10</text>
<text transform="translate(394.5,87.00) scale(1,1.1)" font-size="15.5" text-anchor="end" >15</text>
<text transform="translate(394.5,35.80) scale(1,1.1)" font-size="15.5" text-anchor="end" >20</text>
<text transform="translate(191.5,274.9) scale(1,1.05)" font-size="16.2" text-anchor="middle" >Photon energy (MeV)</text>
<text transform="translate(536.5,273.6) scale(1,1.07)" font-size="16.2" text-anchor="middle" >Scattering angle (mrad)</text>
<text transform="translate(18.9,192.3) rotate(-90) scale(1,1.02)" font-size="16.1" text-anchor="start">Intensity (MeV<tspan dx="0.7" dy="-5" font-size="11">-1</tspan><tspan dx="-1.6" dy="5"> s</tspan><tspan dy="-5" font-size="11">-1</tspan><tspan dx="-1.0" dy="5">)</tspan></text>
<text transform="translate(372.5,126.5) rotate(-90) scale(1,1.02)" font-size="16.2" text-anchor="middle">Photon energy (MeV)</text>
<text transform="translate(62.4,16.6) scale(1,1.1)" font-size="15.2" text-anchor="start" >10</text>
<text transform="translate(78.6,8.7) scale(1,1.1)" font-size="10" text-anchor="start" >18</text>
<path d="M53.3 8.1 L61.0 15.9 M61.0 8.1 L53.3 15.9" stroke="#000" stroke-width="1.1" fill="none"/>
<text transform="translate(84.8,44.9) scale(1,1.0)" font-size="19.5" text-anchor="start" >(a)</text>
<text transform="translate(427.5,43.8) scale(1,1.0)" font-size="19.5" text-anchor="start" >(b)</text>
<text transform="translate(592.0,43.60) scale(1,1.1)" font-size="15.0" text-anchor="start" >1395</text>
<text transform="translate(625.8,43.60) scale(1,1.1)" font-size="15.4" text-anchor="start" >nm</text>
<g transform="translate(0,0.00)"><rect x="579.8" y="37.4" width="7.4" height="1.2" fill="#000" stroke="none"/><rect x="579.8" y="40.4" width="7.4" height="1.2" fill="#000" stroke="none"/><path d="M567.5,33.9 C568.0,32.3 569.7,32.0 570.3,33.6 L573.3,41.6 C573.7,42.7 574.5,42.7 575.0,41.6" fill="none" stroke="#000" stroke-width="1.25"/><path d="M571.2,36.6 L567.9,43.2" fill="none" stroke="#000" stroke-width="1.3"/></g>
<text transform="translate(592.0,70.65) scale(1,1.1)" font-size="15.0" text-anchor="start" >1550</text>
<text transform="translate(625.8,70.65) scale(1,1.1)" font-size="15.4" text-anchor="start" >nm</text>
<g transform="translate(0,27.05)"><rect x="579.8" y="37.4" width="7.4" height="1.2" fill="#000" stroke="none"/><rect x="579.8" y="40.4" width="7.4" height="1.2" fill="#000" stroke="none"/><path d="M567.5,33.9 C568.0,32.3 569.7,32.0 570.3,33.6 L573.3,41.6 C573.7,42.7 574.5,42.7 575.0,41.6" fill="none" stroke="#000" stroke-width="1.25"/><path d="M571.2,36.6 L567.9,43.2" fill="none" stroke="#000" stroke-width="1.3"/></g>
<text transform="translate(592.0,97.70) scale(1,1.1)" font-size="15.0" text-anchor="start" >1705</text>
<text transform="translate(625.8,97.70) scale(1,1.1)" font-size="15.4" text-anchor="start" >nm</text>
<g transform="translate(0,54.10)"><rect x="579.8" y="37.4" width="7.4" height="1.2" fill="#000" stroke="none"/><rect x="579.8" y="40.4" width="7.4" height="1.2" fill="#000" stroke="none"/><path d="M567.5,33.9 C568.0,32.3 569.7,32.0 570.3,33.6 L573.3,41.6 C573.7,42.7 574.5,42.7 575.0,41.6" fill="none" stroke="#000" stroke-width="1.25"/><path d="M571.2,36.6 L567.9,43.2" fill="none" stroke="#000" stroke-width="1.3"/></g>
</g>
</svg>
</body></html>
